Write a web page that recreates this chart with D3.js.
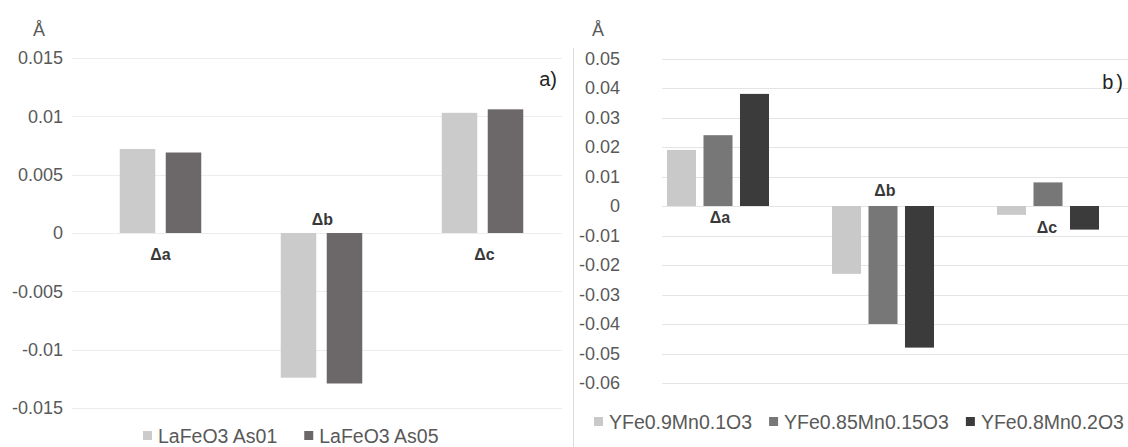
<!DOCTYPE html>
<html>
<head>
<meta charset="utf-8">
<script src="https://cdn.jsdelivr.net/npm/d3@7"></script>
<style>
  html, body { margin: 0; padding: 0; background: #fff; }
  svg { display: block; font-family: "Liberation Sans", Arial, sans-serif; }
</style>
</head>
<body>
<svg id="chart" width="1128" height="447"></svg>
<script>
// Lattice parameter changes (Å) for each doped sample
const categories = ["Δa", "Δb", "Δc"];

// Panel a) LaFeO3 samples
const seriesA = ["LaFeO3 As01", "LaFeO3 As05"];
const valuesAs01 = [0.0072, -0.0124, 0.0103];
const valuesAs05 = [0.0069, -0.0129, 0.0106];
const ticksA = [-0.015, -0.01, -0.005, 0, 0.005, 0.01, 0.015];
const tickLabelsA = ["-0.015", "-0.01", "-0.005", "0", "0.005", "0.01", "0.015"];

// Panel b) YFe(1-x)MnxO3 samples
const seriesB = ["YFe0.9Mn0.1O3", "YFe0.85Mn0.15O3", "YFe0.8Mn0.2O3"];
const valuesMn01 = [0.019, -0.023, -0.003];
const valuesMn015 = [0.024, -0.040, 0.008];
const valuesMn02 = [0.038, -0.048, -0.008];
const ticksB = [-0.06, -0.05, -0.04, -0.03, -0.02, -0.01, 0, 0.01, 0.02, 0.03, 0.04, 0.05];
const tickLabelsB = ["-0.06", "-0.05", "-0.04", "-0.03", "-0.02", "-0.01", "0", "0.01", "0.02", "0.03", "0.04", "0.05"];

const svg = d3.select("#chart");
const textColor = "#595959";

// Divider between the two panels
svg.append("line")
  .attr("x1", 573.5).attr("x2", 573.5)
  .attr("y1", 48).attr("y2", 447)
  .attr("stroke", "#dcdcdc").attr("stroke-width", 1);

function drawPanel(cfg) {
  const g = svg.append("g");
  const y = d3.scaleLinear().domain(cfg.yDomain).range(cfg.yRange);
  const x0 = d3.scaleBand().domain(categories).range(cfg.xRange).padding(0);
  const x1 = d3.scaleBand().domain(cfg.series).range([0, cfg.groupWidth]).paddingInner(cfg.barPad);

  // horizontal gridlines
  g.append("g").selectAll("line").data(cfg.ticks).join("line")
    .attr("x1", cfg.gridX[0]).attr("x2", cfg.gridX[1])
    .attr("y1", d => Math.round(y(d)) + 0.5).attr("y2", d => Math.round(y(d)) + 0.5)
    .attr("stroke", cfg.gridColor).attr("stroke-width", 1);

  // value axis labels
  const axis = d3.axisLeft(y)
    .tickValues(cfg.ticks)
    .tickFormat((d, i) => cfg.tickLabels[i])
    .tickSize(0).tickPadding(0);
  const ax = g.append("g").attr("transform", `translate(${cfg.labelRight},0)`).call(axis);
  ax.select(".domain").remove();
  ax.selectAll("text")
    .attr("fill", textColor)
    .style("font-size", "18px")
    .style("font-family", "'Liberation Sans', Arial, sans-serif");

  // bars
  cfg.series.forEach((s, si) => {
    g.append("g").selectAll("rect").data(cfg.values[si]).join("rect")
      .attr("x", (d, i) => x0(categories[i]) + (x0.bandwidth() - cfg.groupWidth) / 2 + x1(s))
      .attr("width", x1.bandwidth())
      .attr("y", d => y(Math.max(0, d)))
      .attr("height", d => Math.abs(y(d) - y(0)))
      .attr("fill", cfg.colors[si]);
  });

  // category labels next to the zero line
  g.append("g").selectAll("text").data(categories).join("text")
    .attr("x", (d, i) => x0(d) + x0.bandwidth() / 2 + cfg.catDx[i])
    .attr("y", (d, i) => y(0) + cfg.catDy[i])
    .attr("text-anchor", "middle")
    .attr("dominant-baseline", "central")
    .attr("fill", "#383838")
    .style("font-size", "16px")
    .style("font-weight", "bold")
    .text(d => d);

  // unit label
  g.append("text")
    .attr("x", cfg.unitX).attr("y", 30)
    .attr("text-anchor", "middle").attr("dominant-baseline", "central")
    .attr("fill", textColor).style("font-size", "18px")
    .text("Å");

  // panel letter
  g.append("text")
    .attr("x", cfg.letterX).attr("y", cfg.letterY)
    .attr("text-anchor", "end").attr("dominant-baseline", "central")
    .attr("fill", "#222").style("font-size", "20px")
    .style("letter-spacing", cfg.letterSpacing)
    .text(cfg.letter);

  // legend
  let lx = cfg.legendX;
  cfg.series.forEach((s, si) => {
    const item = g.append("g");
    item.append("rect")
      .attr("x", lx).attr("y", cfg.legendY - 5)
      .attr("width", 9).attr("height", 9)
      .attr("fill", cfg.colors[si]);
    const t = item.append("text")
      .attr("x", lx + 15).attr("y", cfg.legendY)
      .attr("dominant-baseline", "central")
      .attr("fill", textColor).style("font-size", "19.5px")
      .text(s);
    lx += 15 + t.node().getComputedTextLength() + cfg.legendGap;
  });
}

drawPanel({
  series: seriesA,
  values: [valuesAs01, valuesAs05],
  colors: ["#cbcbcb", "#6c6769"],
  ticks: ticksA, tickLabels: tickLabelsA,
  yDomain: [-0.015, 0.015], yRange: [408, 58],
  xRange: [80, 563],
  groupWidth: 81.5, barPad: 0.228,
  gridX: [72, 562], gridColor: "#ededed",
  labelRight: 63,
  catDx: [0, 1, 2], catDy: [21, -14, 21],
  unitX: 39,
  letter: "a)", letterX: 557, letterY: 79, letterSpacing: "0px",
  legendX: 143, legendY: 436, legendGap: 27
});

drawPanel({
  series: seriesB,
  values: [valuesMn01, valuesMn015, valuesMn02],
  colors: ["#c9c9c9", "#777777", "#3b3b3b"],
  ticks: ticksB, tickLabels: tickLabelsB,
  yDomain: [-0.06, 0.05], yRange: [383, 58.5],
  xRange: [635.5, 1130.5],
  groupWidth: 102, barPad: 0.205,
  gridX: [662, 1128], gridColor: "#e4e4e4",
  labelRight: 620,
  catDx: [2, 2, -1], catDy: [11, -16, 21],
  unitX: 598,
  letter: "b)", letterX: 1126, letterY: 82, letterSpacing: "3px",
  legendX: 594, legendY: 422, legendGap: 17
});
</script>
</body>
</html>
